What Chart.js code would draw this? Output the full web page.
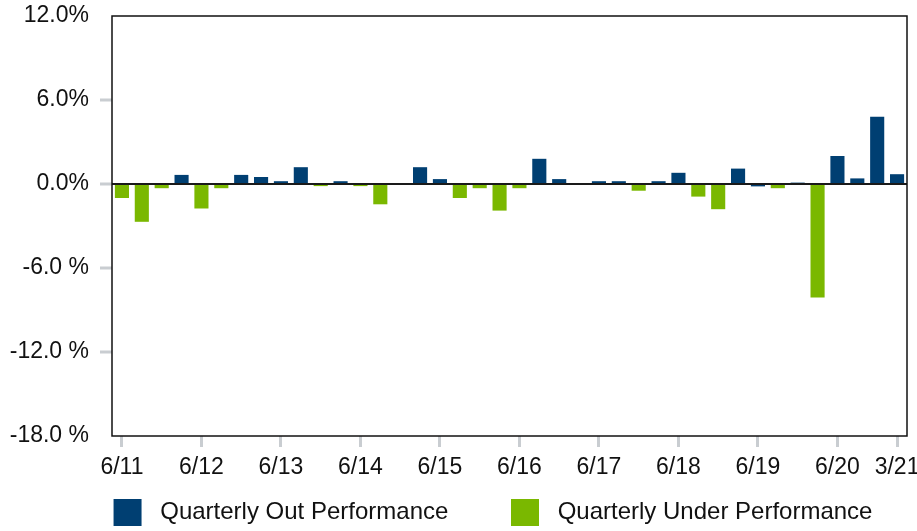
<!DOCTYPE html>
<html>
<head>
<meta charset="utf-8">
<script src="https://cdn.jsdelivr.net/npm/chart.js@4/dist/chart.umd.min.js"></script>
<style>
  html, body { margin: 0; padding: 0; background: #ffffff; }
  #wrap { width: 917px; height: 531px; }
</style>
</head>
<body>
<div id="wrap"><canvas id="c" width="917" height="531"></canvas></div>
<script>
// Quarter-end categories
const quarters = ['6/11','9/11','12/11','3/12','6/12','9/12','12/12','3/13','6/13','9/13','12/13',
  '3/14','6/14','9/14','12/14','3/15','6/15','9/15','12/15','3/16','6/16','9/16','12/16',
  '3/17','6/17','9/17','12/17','3/18','6/18','9/18','12/18','3/19','6/19','9/19','12/19',
  '3/20','6/20','9/20','12/20','3/21'];

// Labels shown on the x axis
const tickLabels = ['6/11','6/12','6/13','6/14','6/15','6/16','6/17','6/18','6/19','6/20','3/21'];

// Series (percent)
const outPerformance = [null, null, null, 0.65, null, null, 0.65, 0.5, 0.2, 1.2, null,
  0.2, null, null, 0.07, 1.2, 0.35, null, null, null, null, 1.8, 0.35,
  0.07, 0.2, 0.2, null, 0.2, 0.8, null, null, 1.1, -0.17, null, 0.1,
  null, 2.0, 0.4, 4.8, 0.7];
const underPerformance = [-1.0, -2.7, -0.3, null, -1.75, -0.3, null, null, null, null, -0.15,
  null, -0.15, -1.45, null, null, null, -1.0, -0.3, -1.9, -0.3, null, null,
  null, null, null, -0.48, null, null, -0.9, -1.8, null, null, -0.3, null,
  -8.1, null, null, null, null];

const seriesNames = ['Quarterly Out Performance', 'Quarterly Under Performance'];
const yTicks = [-18, -12, -6, 0, 6, 12];

const FONT = "'Liberation Sans', Arial, sans-serif";
const BLUE = '#003f72';
const GREEN = '#7ab800';

const frame = {
  id: 'frame',
  afterDatasetsDraw(chart) {
    const a = chart.chartArea, ctx = chart.ctx;
    ctx.save();
    ctx.strokeStyle = '#111111';
    ctx.lineWidth = 1.5;
    ctx.strokeRect(a.left, a.top, a.right - a.left, a.bottom - a.top);
    ctx.restore();
  }
};

new Chart(document.getElementById('c'), {
  type: 'bar',
  data: {
    labels: quarters,
    datasets: [
      { label: seriesNames[0], data: outPerformance, backgroundColor: BLUE, borderWidth: 0 },
      { label: seriesNames[1], data: underPerformance, backgroundColor: GREEN, borderWidth: 0 }
    ]
  },
  options: {
    responsive: false,
    devicePixelRatio: 1,
    animation: false,
    events: [],
    layout: { padding: { left: 0, right: -69, top: 16, bottom: 0 } },
    datasets: { bar: { categoryPercentage: 1.0, barPercentage: 0.71 } },
    scales: {
      x: {
        stacked: true,
        offset: true,
        border: { display: false },
        grid: {
          offset: false,
          drawOnChartArea: false,
          drawTicks: true,
          tickLength: 11,
          tickWidth: 3,
          tickColor: (c) => tickLabels.includes(quarters[c.index]) ? '#c9cdd1' : 'rgba(0,0,0,0)'
        },
        ticks: {
          autoSkip: false,
          maxRotation: 0,
          minRotation: 0,
          padding: 7,
          color: '#111111',
          font: { family: FONT, size: 23 },
          callback: (v, i) => tickLabels.includes(quarters[i]) ? quarters[i] : ''
        },
        afterFit: (s) => { s.height = 47; s.paddingLeft = 0; s.paddingRight = 10; }
      },
      y: {
        stacked: true,
        min: yTicks[0],
        max: yTicks[yTicks.length - 1],
        border: { display: false },
        afterBuildTicks: (s) => { s.ticks = yTicks.map(v => ({ value: v })); },
        grid: {
          drawTicks: true,
          tickLength: 12,
          tickWidth: 3,
          color: (c) => c.tick && c.tick.value === 0 ? '#1a1a1a' : 'rgba(0,0,0,0)',
          lineWidth: (c) => c.tick && c.tick.value === 0 ? 2 : 0,
          tickColor: (c) => (c.tick && (c.tick.value === 12 || c.tick.value === -18)) ? 'rgba(0,0,0,0)' : '#c9cdd1'
        },
        ticks: {
          padding: 11,
          color: '#111111',
          font: { family: FONT, size: 23 },
          callback: (v) => v < 0 ? v.toFixed(1) + ' %' : v.toFixed(1) + '%'
        },
        afterFit: (s) => { s.width = 112; s.paddingTop = 0; s.paddingBottom = 0; }
      }
    },
    plugins: {
      tooltip: { enabled: false },
      legend: {
        position: 'bottom',
        maxHeight: 48,
        labels: {
          boxWidth: 28,
          boxHeight: 27,
          padding: 16,
          color: '#111111',
          font: { family: FONT, size: 24 },
          generateLabels: (chart) => {
            const items = Chart.defaults.plugins.legend.labels.generateLabels(chart);
            items.forEach((it, i) => {
              it.text = ' ' + seriesNames[i] + (i === 0 ? '       ' : '');
            });
            return items;
          }
        }
      }
    }
  },
  plugins: [frame]
});
</script>
</body>
</html>
